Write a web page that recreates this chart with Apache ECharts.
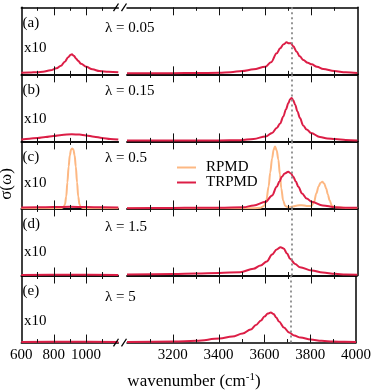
<!DOCTYPE html>
<html><head><meta charset="utf-8">
<script src="https://cdn.jsdelivr.net/npm/echarts@6/dist/echarts.min.js"></script>
<style>html,body{margin:0;padding:0;background:#fff}#c{width:374px;height:390px}</style>
</head><body><div id="c"></div>
<script>
// ---------- data (intensity in arbitrary units, low-frequency window shown x10) ----------
const panelLabels = ['(a)', '(b)', '(c)', '(d)', '(e)'];
const lambdaLabels = ['λ = 0.05', 'λ = 0.15', 'λ = 0.5', 'λ = 1.5', 'λ = 5'];
const scaleLabel = 'x10';
const lowTickLabels = [600, 800, 1000];
const highTickLabels = [3200, 3400, 3600, 3800, 4000];
const lowMajorTicks = [800, 1000];
const lowMinorTicks = [700, 900, 1100];
const highMajorTicks = [3200, 3400, 3600, 3800];
const highMinorTicks = [3100, 3300, 3500, 3700, 3900];
const refLine = 3714;

// TRPMD, low-frequency window (x10)
const aLow = [[600,0.15],[650,0.18],[700,0.22],[735,0.26],[780,0.4],[818,0.6],[845,0.85],[869,1.26],[890,1.7],[905,1.95],[913,2.0],[925,1.85],[940,1.55],[951,1.35],[970,1.05],[1002,0.76],[1040,0.5],[1084,0.33],[1140,0.25],[1200,0.2]];
const bLow = [[600,0.2],[650,0.27],[700,0.35],[750,0.45],[800,0.55],[850,0.65],[913,0.72],[960,0.68],[1000,0.6],[1050,0.47],[1100,0.35],[1150,0.25],[1200,0.18]];
const cLow = [[600,0.1],[700,0.12],[800,0.14],[900,0.16],[1000,0.14],[1100,0.12],[1200,0.1]];
const dLow = [[600,0.06],[900,0.07],[1200,0.06]];
const eLow = [[600,0.06],[900,0.07],[1200,0.06]];
// RPMD, low-frequency window (x10), panel (c)
const cLowRPMD = [[600,0.03],[800,0.03],[850,0.05],[862,0.15],[870,0.4],[878,1.2],[885,2.6],[893,4.2],[900,5.3],[908,5.9],[915,6.0],[922,5.9],[930,5.3],[937,4.2],[945,2.6],[952,1.2],[960,0.4],[968,0.15],[980,0.05],[1000,0.03],[1200,0.03]];

// TRPMD, OH-stretch window
const aHigh = [[3000,0.1],[3200,0.12],[3300,0.13],[3400,0.16],[3450,0.22],[3500,0.33],[3550,0.5],[3600,0.76],[3625,1.2],[3650,2.1],[3665,2.6],[3680,3.0],[3693,3.2],[3703,3.1],[3712,3.1],[3722,2.8],[3737,2.25],[3750,1.8],[3766,1.43],[3785,1.15],[3802,1.0],[3825,0.75],[3852,0.53],[3900,0.33],[3950,0.2],[4000,0.13]];
const bHigh = [[3000,0.08],[3200,0.09],[3300,0.1],[3400,0.1],[3491,0.12],[3550,0.25],[3602,0.5],[3630,0.85],[3650,1.34],[3665,1.8],[3679,2.5],[3690,3.2],[3701,3.84],[3708,4.2],[3715,4.34],[3722,4.1],[3730,3.67],[3740,3.0],[3751,2.34],[3765,1.6],[3780,1.2],[3799,0.84],[3838,0.44],[3870,0.3],[3903,0.24],[3950,0.15],[4000,0.1]];
const cHigh = [[3000,0.03],[3200,0.05],[3300,0.07],[3400,0.08],[3505,0.12],[3550,0.3],[3602,0.66],[3630,1.3],[3650,2.16],[3662,2.7],[3672,3.16],[3685,3.5],[3700,3.66],[3712,3.5],[3722,3.16],[3733,2.7],[3744,2.16],[3760,1.5],[3780,1.0],[3802,0.66],[3850,0.3],[3903,0.12],[3950,0.08],[4000,0.06]];
const dHigh = [[3000,0.1],[3200,0.15],[3300,0.2],[3400,0.25],[3491,0.33],[3549,0.67],[3580,1.0],[3607,1.4],[3630,2.1],[3650,2.6],[3667,2.83],[3680,2.7],[3695,2.2],[3708,1.67],[3730,1.15],[3751,0.83],[3802,0.5],[3850,0.3],[3903,0.17],[3950,0.1],[4000,0.07]];
const eHigh = [[3000,0.05],[3202,0.1],[3303,0.18],[3404,0.4],[3460,0.6],[3505,0.9],[3540,1.3],[3563,1.75],[3585,2.2],[3600,2.6],[3615,2.9],[3628,3.0],[3640,2.85],[3652,2.5],[3664,2.1],[3685,1.5],[3708,1.0],[3730,0.7],[3758,0.5],[3802,0.3],[3850,0.17],[3900,0.1],[3950,0.07],[4000,0.05]];
// RPMD, OH-stretch window, panel (c)
const cHighRPMD = [[3000,0.03],[3400,0.03],[3550,0.03],[3580,0.08],[3595,0.25],[3605,0.8],[3615,2.2],[3622,3.6],[3630,5.0],[3637,5.9],[3643,6.2],[3650,5.8],[3657,4.9],[3664,3.4],[3670,2.0],[3678,0.8],[3687,0.25],[3700,0.12],[3720,0.2],[3740,0.3],[3758,0.33],[3780,0.25],[3800,0.25],[3812,0.6],[3822,1.5],[3832,2.2],[3840,2.55],[3848,2.66],[3856,2.5],[3865,2.0],[3872,1.4],[3880,0.8],[3889,0.3],[3900,0.12],[3950,0.05],[4000,0.04]];

const trpmdLow = [aLow, bLow, cLow, dLow, eLow];
const trpmdHigh = [aHigh, bHigh, cHigh, dHigh, eHigh];

// ---------- layout ----------
const FONT = '"Liberation Serif", "Times New Roman", serif';
const TRPMD_COLOR = '#dc1e46';
const RPMD_COLOR = '#fdb883';
const TOP = 7.3, H = 67.05;
const L_LEFT = 21.3, L_W = 97.0, R_LEFT = 127, R_W = 230.3;
const YMAX = 6.7;
const MAJ = 8, MIN = 3.5;
const lambdaDy = [21, 16.4, 16.6, 19, 21.7];
const scaleDy = [41, 45, 42, 44, 46];

const grids = [], xAxes = [], yAxes = [], series = [];
const LINE_STYLE = {color: '#000', width: 1.5};

// returns index of the data x-axis for this grid
function addAxes(gi, p, low) {
  const common = {
    gridIndex: gi, type: 'value', min: low ? 600 : 3000, max: low ? 1200 : 4000, interval: 200,
    axisTick: {show: false}, minorTick: {show: false},
    splitLine: {show: false}, minorSplitLine: {show: false}
  };
  xAxes.push(Object.assign({}, common, {
    position: 'bottom',
    axisLine: {show: true, onZero: false, lineStyle: LINE_STYLE},
    axisLabel: {show: p === 4, customValues: low ? lowTickLabels : highTickLabels,
      formatter: v => String(v), fontFamily: FONT, fontSize: 15, color: '#000', margin: 5}
  }));
  const mainIdx = xAxes.length - 1;
  xAxes.push(Object.assign({}, common, {
    position: 'top', axisLine: {show: true, onZero: false, lineStyle: LINE_STYLE}, axisLabel: {show: false}
  }));
  yAxes.push({
    gridIndex: gi, type: 'value', min: 0, max: YMAX, position: low ? 'left' : 'right',
    axisLine: {show: true, onZero: false, lineStyle: LINE_STYLE},
    axisTick: {show: false}, axisLabel: {show: false}, splitLine: {show: false}
  });
  return mainIdx;
}

function lineSeries(name, color, xi, yi, data, extra) {
  return Object.assign({
    name, type: 'line', xAxisIndex: xi, yAxisIndex: yi, data,
    showSymbol: false, symbol: 'none', smooth: 0.35, smoothMonotone: 'x',
    color, lineStyle: {color, width: 2}, animation: false, silent: true, z: 3
  }, extra || {});
}

const axisRefs = []; // [xAxisIndex, yAxisIndex, panel, isLow]
for (let p = 0; p < 5; p++) {
  const top = TOP + H * p;
  const gl = 2 * p, gr = 2 * p + 1;
  grids.push({left: L_LEFT, top, width: L_W, height: H});
  grids.push({left: R_LEFT, top, width: R_W, height: H});
  const xl = addAxes(gl, p, true);
  const xr = addAxes(gr, p, false);
  axisRefs.push([xl, gl, p, true], [xr, gr, p, false]);
  if (p === 2) {
    series.push(lineSeries('RPMD', RPMD_COLOR, xl, gl, cLowRPMD));
    series.push(lineSeries('RPMD', RPMD_COLOR, xr, gr, cHighRPMD));
  }
  series.push(lineSeries('TRPMD', TRPMD_COLOR, xl, gl, trpmdLow[p]));
  series.push(lineSeries('TRPMD', TRPMD_COLOR, xr, gr, trpmdHigh[p], {
    markLine: {silent: true, symbol: ['none', 'none'], label: {show: false}, animation: false,
      lineStyle: {color: '#8a8a8a', type: [2, 3], width: 1.8}, data: [{xAxis: refLine}]}
  }));
}

const graphics = [];
for (let p = 0; p < 5; p++) {
  const top = TOP + H * p;
  graphics.push({type: 'text', x: 22.5, y: top + 16, style: {text: panelLabels[p], font: '15px ' + FONT, fill: '#000', align: 'left', verticalAlign: 'middle'}});
  graphics.push({type: 'text', x: 24, y: top + scaleDy[p], style: {text: scaleLabel, font: '15px ' + FONT, fill: '#000', align: 'left', verticalAlign: 'middle'}});
  graphics.push({type: 'text', x: 105, y: top + lambdaDy[p], style: {text: lambdaLabels[p], font: '15px ' + FONT, fill: '#000', align: 'left', verticalAlign: 'middle'}});
}
graphics.push({type: 'text', x: 7, y: 184, rotation: Math.PI / 2, style: {text: 'σ(ω)', font: '17px ' + FONT, fill: '#000', align: 'center', verticalAlign: 'middle'}});
graphics.push({type: 'text', x: 194, y: 381.5, style: {
  text: '{a|wavenumber (cm}{s|-1}{a|)}', align: 'center', verticalAlign: 'middle', fill: '#000',
  rich: {a: {fontFamily: FONT, fontSize: 17, lineHeight: 20, verticalAlign: 'middle'}, s: {fontFamily: FONT, fontSize: 11, verticalAlign: 'top', lineHeight: 12}}
}});
// axis break marks
const yBottom = TOP + H * 5;
[TOP, yBottom].forEach(y => {
  graphics.push({type: 'line', z: 101, shape: {x1: 113.5, y1: y + 3.8, x2: 118.5, y2: y - 3.8}, style: {stroke: '#000', lineWidth: 1.3}});
  graphics.push({type: 'line', z: 101, shape: {x1: 121.5, y1: y + 3.8, x2: 126.5, y2: y - 3.8}, style: {stroke: '#000', lineWidth: 1.3}});
});

const chart = echarts.init(document.getElementById('c'), null, {renderer: 'canvas'});
const baseOption = {
  animation: false,
  backgroundColor: '#fff',
  grid: grids, xAxis: xAxes, yAxis: yAxes, series,
  legend: {show: true, left: 172, top: 155, orient: 'vertical', icon: 'rect', itemWidth: 19, itemHeight: 2,
    itemGap: 0, selectedMode: false, data: ['RPMD', 'TRPMD'],
    textStyle: {fontFamily: FONT, fontSize: 15, color: '#000', lineHeight: 15, padding: [0, 0, 0, 5]}},
  graphic: graphics
};
chart.setOption(baseOption);

// tick marks: positions come from each axis scale via convertToPixel
const tickGraphics = [];
function tickLine(x, y1, y2) {
  const xx = Math.round(x) + 0.5;
  tickGraphics.push({type: 'line', z: 50, silent: true,
    shape: {x1: xx, y1: y1, x2: xx, y2: y2}, style: {stroke: '#111', lineWidth: 1}});
}
axisRefs.forEach(([xi, yi, p, low]) => {
  const yB = chart.convertToPixel({yAxisIndex: yi}, 0);
  const yT = chart.convertToPixel({yAxisIndex: yi}, YMAX);
  const sets = [[low ? lowMajorTicks : highMajorTicks, MAJ], [low ? lowMinorTicks : highMinorTicks, MIN]];
  sets.forEach(([vals, len]) => {
    vals.forEach(v => {
      const x = chart.convertToPixel({xAxisIndex: xi}, v);
      // bottom edge: crosses into the panel below, or points up in the last panel
      tickLine(x, yB - len, p === 4 ? yB : yB + len);
      // top edge of the first panel points down
      if (p === 0) tickLine(x, yT, yT + len);
    });
  });
});
chart.setOption({graphic: graphics.concat(tickGraphics)});
</script></body></html>
